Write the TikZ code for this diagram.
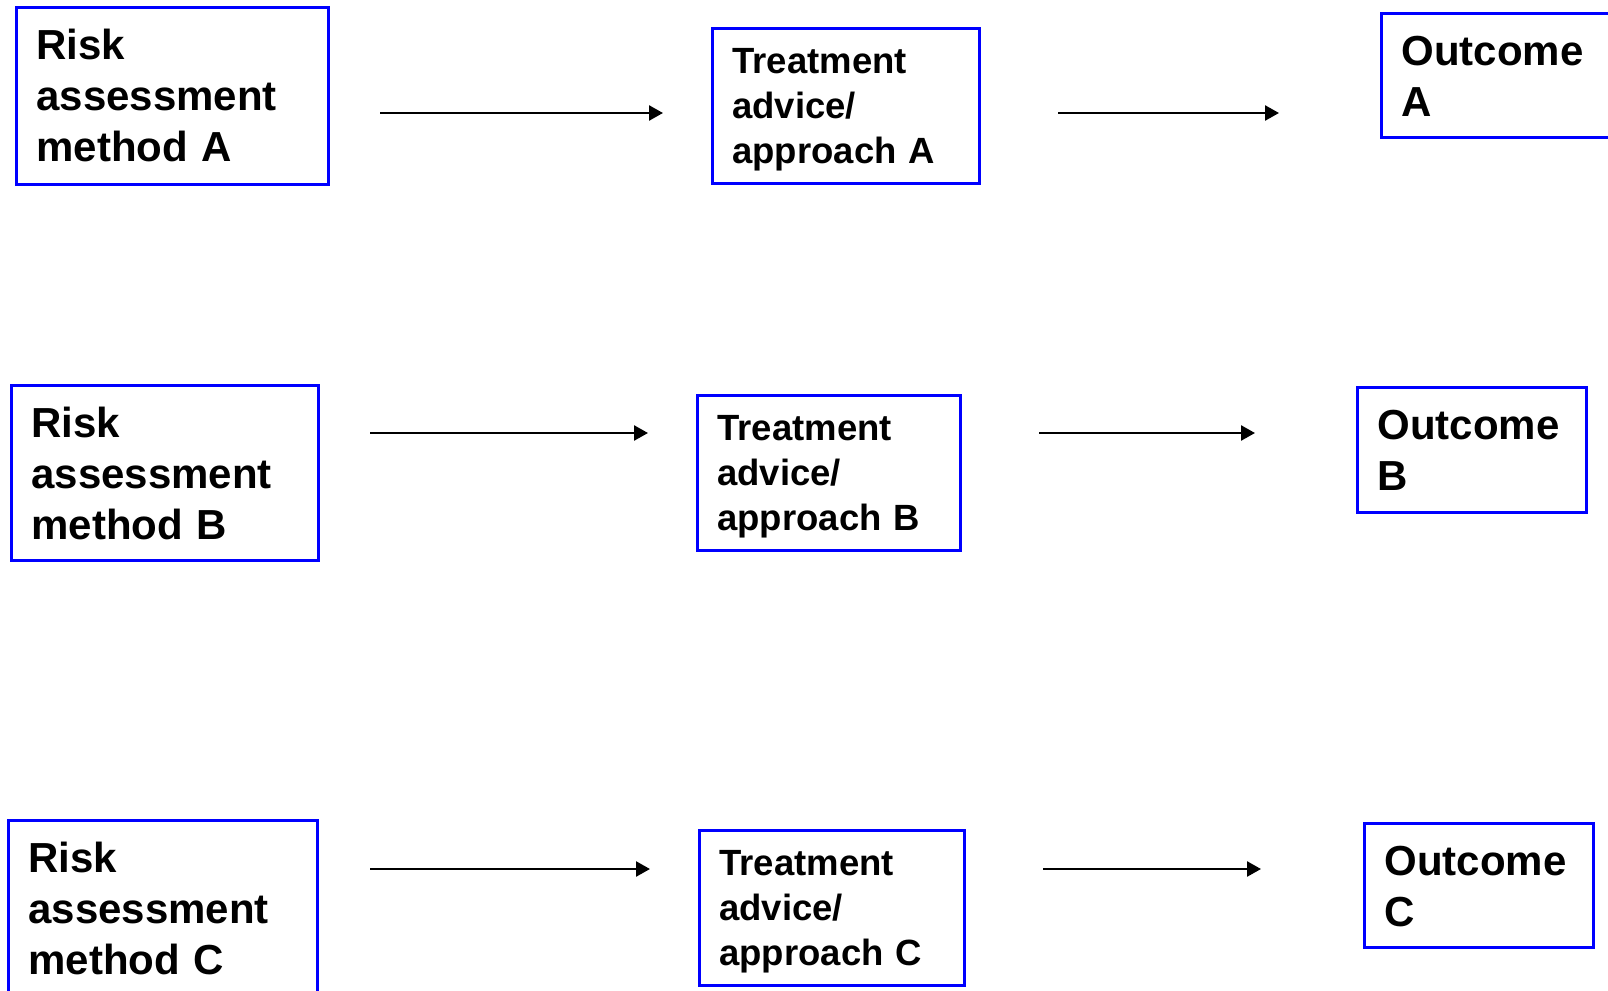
\documentclass[tikz,border=0pt]{standalone}
\usepackage{fontspec}
\usepackage{xcolor}
\usepackage{tikz}
\usetikzlibrary{arrows.meta}
\setmainfont{Liberation Sans}

\begin{document}
\begin{tikzpicture}[x=1pt, y=-1pt,
  stepbox/.style={rectangle, draw=blue, line width=2.7pt, anchor=north west, align=left,
    inner xsep=20pt, inner ysep=0pt},
  bigtext/.style={font=\fontsize{42pt}{51pt}\selectfont\bfseries, text height=52pt},
  smalltext/.style={font=\fontsize{36.5pt}{45pt}\selectfont\bfseries, text height=45pt},
  arr/.style={line width=2.5pt, -{Triangle[length=14pt, width=15pt]}}]
\useasboundingbox (0,0) rectangle (1608,990);
\fill[white] (0,0) rectangle (1608,990);
% row A
\node[stepbox, bigtext, text width=272pt, text depth=125pt] (riskA) at (15,6) {Risk\\assessment\\method A};
\node[stepbox, smalltext, text width=227pt, text depth=110pt] (treatA) at (711,27) {Treatment\\advice/\\approach A};
\node[stepbox, bigtext, text width=190pt, text depth=72pt] (outA) at (1380,12) {Outcome\\A};
% row B
\node[stepbox, bigtext, text width=267pt, text depth=123pt] (riskB) at (10,384) {Risk\\assessment\\method B};
\node[stepbox, smalltext, text width=223pt, text depth=110pt] (treatB) at (696,394) {Treatment\\advice/\\approach B};
\node[stepbox, bigtext, text width=189pt, text depth=73pt] (outB) at (1356,386) {Outcome\\B};
% row C
\node[stepbox, bigtext, text width=269pt, text depth=123pt] (riskC) at (7,819) {Risk\\assessment\\method C};
\node[stepbox, smalltext, text width=225pt, text depth=110pt] (treatC) at (698,829) {Treatment\\advice/\\approach C};
\node[stepbox, bigtext, text width=189pt, text depth=72pt] (outC) at (1363,822) {Outcome\\C};
% arrow ends
\coordinate (riskAend) at (380,113);
\coordinate (treatAin) at (663,113);
\coordinate (treatAend) at (1058,113);
\coordinate (outAin) at (1279,113);
\coordinate (riskBend) at (370,433);
\coordinate (treatBin) at (648,433);
\coordinate (treatBend) at (1039,433);
\coordinate (outBin) at (1255,433);
\coordinate (riskCend) at (370,869);
\coordinate (treatCin) at (650,869);
\coordinate (treatCend) at (1043,869);
\coordinate (outCin) at (1261,869);
\draw[arr] (riskAend) -- (treatAin);
\draw[arr] (treatAend) -- (outAin);
\draw[arr] (riskBend) -- (treatBin);
\draw[arr] (treatBend) -- (outBin);
\draw[arr] (riskCend) -- (treatCin);
\draw[arr] (treatCend) -- (outCin);
\end{tikzpicture}
\end{document}
